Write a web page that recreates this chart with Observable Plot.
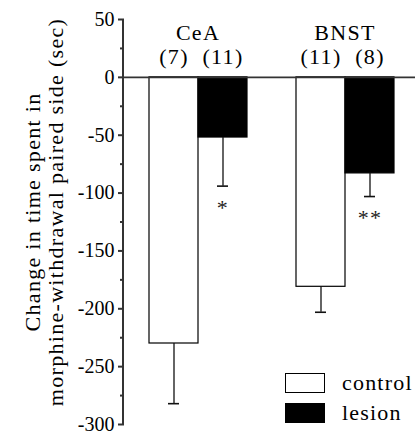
<!DOCTYPE html>
<html>
<head>
<meta charset="utf-8">
<script src="https://cdn.jsdelivr.net/npm/d3@7"></script>
<script src="https://cdn.jsdelivr.net/npm/@observablehq/plot@0.6"></script>
<style>
  html, body { margin: 0; padding: 0; background: #fff; }
  #chart { position: relative; width: 415px; height: 433px; overflow: hidden; }
  #chart svg, #chart svg text { font-family: "Liberation Serif", "Times New Roman", Times, serif !important; }
  #chart svg text { letter-spacing: 1.3px; }
  #chart svg g[aria-label="y-axis tick label"] text { letter-spacing: 0; font-variant: normal !important; }
  .legend { position: absolute; left: 285px; top: 373px; font-family: "Liberation Serif", "Times New Roman", Times, serif; font-size: 22px; letter-spacing: 1.2px; color: #000; }
  .legend .row { display: flex; align-items: center; height: 20px; margin-bottom: 10px; }
  .legend .sw { width: 40px; height: 20px; box-sizing: border-box; border: 1.3px solid #000; margin-right: 17px; }
</style>
</head>
<body>
<div id="chart"></div>
<script>
// ---- data ----
const groups = ["CeA", "BNST"];
const conditions = ["control", "lesion"];
const conditionColors = ["white", "black"];
const barRegion = ["CeA", "CeA", "BNST", "BNST"];
const barCondition = ["control", "lesion", "control", "lesion"];
const meanChange = [-230, -52, -181, -83];
const semChange = [52, 42, 22, 20];
const sampleSize = ["(7)", "(11)", "(11)", "(8)"];
const significance = ["", "*", "", "**"];
const yTicks = [50, 0, -50, -100, -150, -200, -250, -300];
const yMinorTicks = [25, -25, -75, -125, -175, -225, -275];
const yTitle = "Change in time spent in\nmorphine-withdrawal paired side (sec)";

const rows = barRegion.map((r, i) => ({
  region: r,
  condition: barCondition[i],
  mean: meanChange[i],
  lower: meanChange[i] - semChange[i],
  n: sampleSize[i],
  sig: significance[i]
}));
const groupRows = groups.map(g => ({region: g}));
const titleRows = [{region: groups[0], t: yTitle}];

const font = "Liberation Serif";

const plot = Plot.plot({
  width: 415,
  height: 433,
  marginLeft: 123,
  marginRight: -3,
  marginTop: 19,
  marginBottom: 9,
  style: {fontFamily: font, background: "white", color: "black", overflow: "visible"},
  fx: {domain: groups, padding: 0, axis: null, label: null},
  x: {domain: conditions, paddingInner: 0, paddingOuter: 0.49, axis: null, label: null},
  y: {domain: [-300, 50], axis: null, label: null},
  color: {domain: conditions, range: conditionColors},
  marks: [
    Plot.barY(rows, {fx: "region", x: "condition", y: "mean", fill: "condition", stroke: "black", strokeWidth: 1.2}),
    Plot.ruleX(rows, {fx: "region", x: "condition", y1: "mean", y2: "lower", stroke: "#111", strokeWidth: 1.3}),
    Plot.tickY(rows, {fx: "region", x: "condition", y: "lower", stroke: "#111", strokeWidth: 1.6, insetLeft: 19, insetRight: 19}),
    Plot.ruleY([0], {stroke: "#333", strokeWidth: 1.6}),
    Plot.axisY(yTicks, {tickSize: 6, tickPadding: 4, fontSize: 20, stroke: "#333", strokeWidth: 2, fill: "black", label: null, tickFormat: d => String(d)}),
    Plot.axisY(yMinorTicks, {tickSize: 4, text: null, stroke: "#333", strokeWidth: 2, label: null}),
    Plot.text(groupRows, {fx: "region", text: "region", frameAnchor: "top", lineAnchor: "top", dy: 5, fontSize: 22, fill: "black"}),
    Plot.text(rows, {fx: "region", x: "condition", text: "n", frameAnchor: "top", lineAnchor: "top", dy: 29, fontSize: 22, fill: "black"}),
    Plot.text(rows, {fx: "region", x: "condition", y: "lower", text: "sig", lineAnchor: "top", dy: 13, fontSize: 22, fill: "#222"}),
    Plot.text(titleRows, {fx: "region", text: "t", frameAnchor: "left", textAnchor: "middle", lineAnchor: "middle", rotate: -90, dx: -80, dy: -10, fontSize: 22, lineHeight: 1.05, fill: "black"})
  ]
});

const chart = document.getElementById("chart");
chart.appendChild(plot);

// y-axis line, placed through the plot's own y scale
const yScale = plot.scale("y");
d3.select(plot).append("line")
  .attr("x1", 123).attr("x2", 123)
  .attr("y1", yScale.apply(d3.max(yTicks)))
  .attr("y2", yScale.apply(d3.min(yTicks)))
  .attr("stroke", "#333")
  .attr("stroke-width", 2);

// legend built from the color scale
const legend = document.createElement("div");
legend.className = "legend";
const colorScale = plot.scale("color");
colorScale.domain.forEach((c, i) => {
  const row = document.createElement("div");
  row.className = "row";
  const sw = document.createElement("div");
  sw.className = "sw";
  sw.style.background = colorScale.range[i];
  const label = document.createElement("span");
  label.textContent = c;
  row.appendChild(sw);
  row.appendChild(label);
  legend.appendChild(row);
});
chart.appendChild(legend);
</script>
</body>
</html>
